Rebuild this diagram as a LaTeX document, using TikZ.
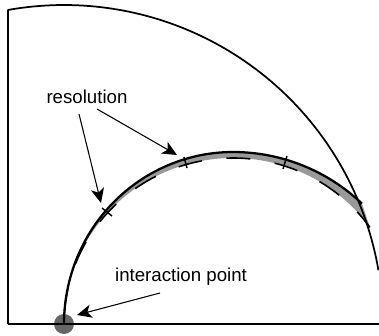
\documentclass[tikz,border=0pt]{standalone}
\usepackage{fontspec}
\setmainfont{Liberation Sans}
\usetikzlibrary{arrows.meta}

\tikzset{
	label text/.style={font=\fontsize{14pt}{16pt}\selectfont, inner sep=0pt},
	pointer/.style={line width=0.8pt, -{Stealth[length=11pt, width=10pt, inset=3pt]}},
	track tick/.style={line width=1.1pt}
}

\begin{document}
\begin{tikzpicture}[x=0.75pt, y=-0.75pt]
	\useasboundingbox (0,0) rectangle (379,336);
	
	% interaction region (grey disc)
	\fill[black!60] (64,324) circle (10);
	
	% resolution band between the two tracks
	\fill[black!40] plot[domain=180:90, samples=60] ({233+169*cos(\x)}, {324-172*sin(\x)})
		-- plot[domain=90:46.4, samples=40] ({233+187*cos(\x)}, {339-187*sin(\x)})
		-- plot[domain=35.4:90, samples=50] ({233+168*cos(\x)}, {323-165*sin(\x)})
		-- plot[domain=90:180, samples=60] ({233+169*cos(\x)}, {324-166*sin(\x)}) -- cycle;
	
	% detector outline
	\draw[line width=1.3pt, line join=round, domain=100.1:9.7, samples=80]
		(8,324) -- plot ({64+319*cos(\x)}, {324-319*sin(\x)});
	\draw[line width=1.1pt] (8,324) -- (379,324);
	
	% fitted track (dashed)
	\draw[line width=1.2pt, dash pattern=on 18pt off 18.5pt, dash phase=3pt]
		plot[domain=35.4:90, samples=50] ({233+168*cos(\x)}, {323-165*sin(\x)})
		-- plot[domain=90:180, samples=60] ({233+169*cos(\x)}, {324-166*sin(\x)});
	
	% true track (solid)
	\draw[line width=1.7pt] plot[domain=180:90, samples=60] ({233+169*cos(\x)}, {324-172*sin(\x)})
		-- plot[domain=90:46.4, samples=40] ({233+187*cos(\x)}, {339-187*sin(\x)});
	
	% tick marks
	\draw[track tick] (102,208) -- (112,216);
	\draw[track tick] (184,157) -- (187,168);
	\draw[track tick] (287,156) -- (283,169);
	
	% labels
	\node[label text] (res) at (87,97) {resolution};
	\node[label text] (ip) at (181,277) {interaction point};
	
	\coordinate (resa) at (97,109);
	\coordinate (resb) at (79,114);
	\coordinate (ipa) at (160,293);
	\coordinate (tipa) at (177,155);
	\coordinate (tipb) at (101,203);
	\coordinate (tipc) at (77,315);
	
	% arrows
	\draw[pointer] (resa) -- (tipa);
	\draw[pointer] (resb) -- (tipb);
	\draw[pointer] (ipa) -- (tipc);
\end{tikzpicture}
\end{document}
